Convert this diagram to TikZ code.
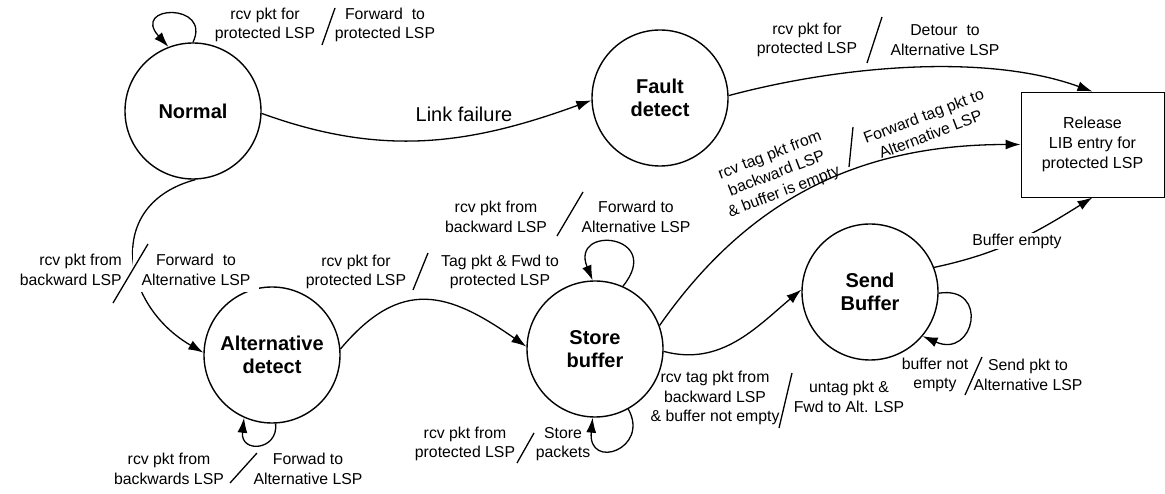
\documentclass[tikz,border=0pt]{standalone}
\usepackage{fontspec}
\setmainfont{Liberation Sans}
\usetikzlibrary{arrows.meta}
\begin{document}
\begin{tikzpicture}[x=1pt,y=-1pt,
  state/.style={circle,draw,line width=1.4pt,minimum size=136pt,inner sep=0pt,
    font=\fontsize{20}{23}\selectfont\bfseries,align=center},
  lbl/.style={font=\fontsize{15.8}{19.5}\selectfont,align=center,inner sep=1pt},
  trans/.style={line width=1.3pt,-{Latex[length=15pt,width=10pt]}},
  cut/.style={line width=1.3pt},
]
\useasboundingbox (0,0) rectangle (1165,494);

% states
\node[state] (normal) at (193,111) {Normal};
\node[state] (fault)  at (660,98)  {Fault\\detect};
\node[state] (alt)    at (272,355) {Alternative\\detect};
\node[state] (store)  at (595,349) {Store\\buffer};
\node[state] (send)   at (870,292) {Send\\Buffer};
\node[draw,line width=0.9pt,minimum width=143pt,minimum height=105pt,align=center,
  font=\fontsize{16}{20}\selectfont] (release) at (1092.5,144.5)
  {Release\\LIB entry for\\protected LSP};

% transitions between states
\draw[trans] (normal.-2) to[out=-20,in=200] (fault.182);
\draw[trans] (fault.2) to[out=15,in=160,looseness=0.8] (release.north);
\draw[trans] (normal.-88) to[out=195,in=150,looseness=1.4] (alt.178);
\draw[trans] (alt.5) to[out=50,in=145,looseness=1.3] (store.178);
\draw[trans] (store.20) to[out=55,in=180] (release.west);
\draw[trans] (store.-2) to[out=-15,in=220] (send.178);
\draw[trans] (send.21) to[out=12,in=212] (release.south);

% self loops
\draw[trans] (normal.90) .. controls +(19,-40) and +(-38,-42) .. (normal.111);
\draw[trans] (store.66) .. controls +(42,-52) and +(-23,-56) .. (store.92);
\draw[trans] (store.-61) .. controls +(22,40) and +(-5,53) .. (store.-92);
\draw[trans] (alt.-87) .. controls +(3,27) and +(-4,36) .. (alt.-114);
\draw[trans] (send.-1) .. controls +(51,-8) and +(52,23) .. (send.-40);

% transition labels
\node[font=\fontsize{20}{23}\selectfont] (lf) at (464,114) {Link failure};

\node[lbl] (n1) at (265,25) {rcv pkt for\\protected LSP};
\node[lbl] (n2) at (385,25) {Forward\ \ to\\protected LSP};
\draw[cut] (335,8) -- (322,45);

\node[lbl] (f1) at (807,40) {rcv pkt for\\protected LSP};
\node[lbl] (f2) at (945,40) {Detour\ \ to\\Alternative LSP};
\draw[cut] (882,17) -- (867,63);

\node[lbl,anchor=east,align=right] (a1) at (123,270) {rcv pkt from\\backward LSP};
\node[lbl,fill=white,inner xsep=9pt,inner ysep=6pt] (a2) at (196,270) {Forward\ \ to\\Alternative LSP};
\draw[cut] (148,244) -- (113,303);

\node[lbl] (s1) at (356,272) {rcv pkt for\\protected LSP};
\node[lbl] (s2) at (500,272) {Tag pkt \& Fwd to\\protected LSP};
\draw[cut] (428,253) -- (413,290);

\node[lbl] (t1) at (496,217) {rcv pkt from\\backward LSP};
\node[lbl] (t2) at (636,217) {Forward to\\Alternative LSP};
\draw[cut] (583,192) -- (557,236);

\node[lbl] (b1) at (465,444) {rcv pkt from\\protected LSP};
\node[lbl] (b2) at (563,444) {Store\\packets};
\draw[cut] (534,433) -- (517,463);

\node[lbl] (d1) at (169,469) {rcv pkt from\\backwards LSP};
\node[lbl] (d2) at (308,469) {Forwad to\\Alternative LSP};
\draw[cut] (257,453) -- (230,483);

\node[lbl] (e1) at (935,375) {buffer not\\empty};
\node[lbl] (e2) at (1028,375) {Send pkt to\\Alternative LSP};
\draw[cut] (982,357) -- (965,395);

\node[lbl] (g1) at (715,398) {rcv tag pkt from\\backward LSP\\\& buffer not empty};
\node[lbl] (g2) at (849,397) {untag pkt \&\\Fwd to Alt. LSP};
\draw[cut] (792,373) -- (779,428);

\node[lbl,rotate=21] (r1) at (777,174) {rcv tag pkt from\\backward LSP\\\& buffer is empty};
\node[lbl,rotate=21] (r2) at (927,125) {Forward tag pkt to\\Alternative LSP};
\draw[cut] (853,127) -- (849,167);

\node[lbl,fill=white,inner sep=1pt] (be) at (1017,241) {Buffer empty};
\end{tikzpicture}
\end{document}
